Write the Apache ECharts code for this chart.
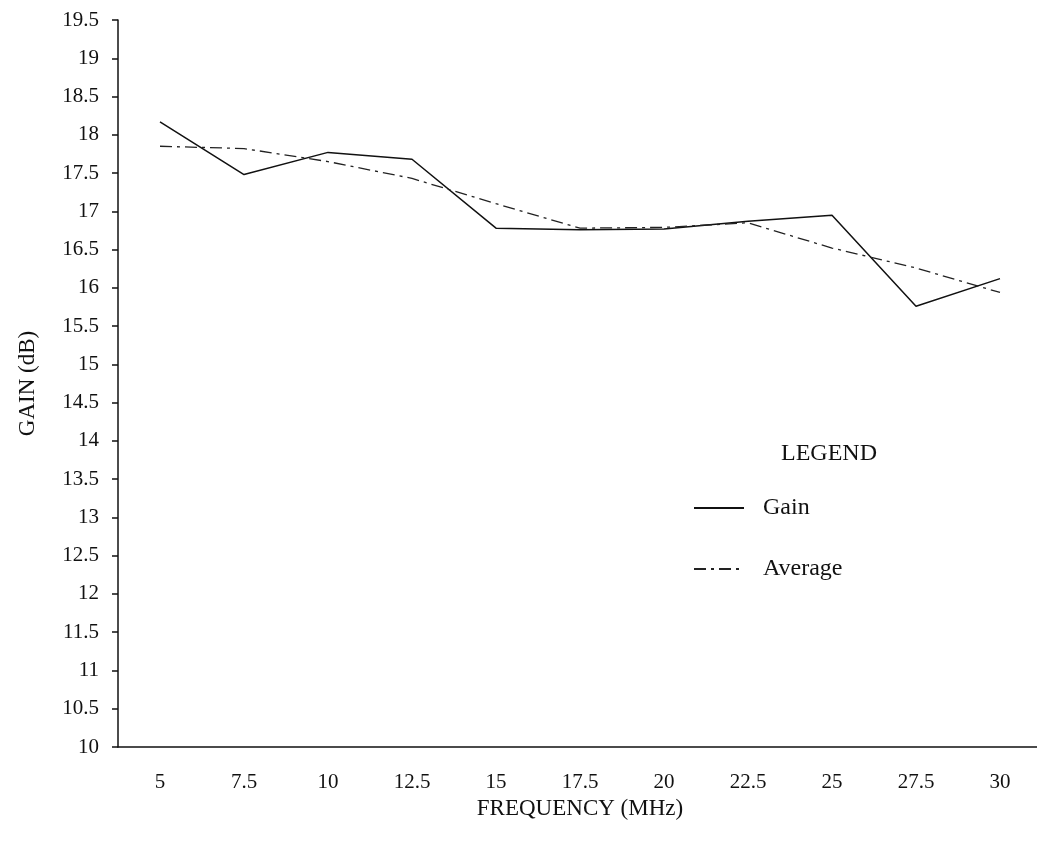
<!DOCTYPE html>
<html>
<head>
<meta charset="utf-8">
<script src="https://cdn.jsdelivr.net/npm/echarts@6/dist/echarts.min.js"></script>
<style>
  html, body { margin: 0; padding: 0; background: #fff; }
  #chart { width: 1037px; height: 844px; }
</style>
</head>
<body>
<div id="chart"></div>
<script>
// frequency categories (MHz)
const frequency = ['5', '7.5', '10', '12.5', '15', '17.5', '20', '22.5', '25', '27.5', '30'];
// measured gain (dB)
const gain = [18.17, 17.48, 17.77, 17.68, 16.78, 16.76, 16.77, 16.87, 16.95, 15.76, 16.12];
// running average (dB)
const average = [17.85, 17.82, 17.65, 17.43, 17.1, 16.78, 16.79, 16.85, 16.52, 16.26, 15.94];

const font = 'Liberation Serif';
const chart = echarts.init(document.getElementById('chart'));

chart.setOption({
    backgroundColor: '#fff',
    animation: false,
    textStyle: {
        fontFamily: font,
        color: '#111'
    },
    title: {
        text: 'LEGEND',
        left: 776,
        top: 437,
        textStyle: {
            fontFamily: font,
            fontWeight: 'normal',
            fontSize: 24,
            color: '#111'
        }
    },
    legend: {
        orient: 'vertical',
        left: 688,
        top: 491,
        itemWidth: 50,
        itemHeight: 22,
        itemGap: 37,
        itemStyle: { opacity: 0 },
        textStyle: {
            fontFamily: font,
            fontSize: 24,
            color: '#111',
            padding: [0, 0, 0, 14]
        },
        data: ['Gain', 'Average']
    },
    grid: {
        left: 118,
        top: 20,
        width: 924,
        bottom: 97,
        outerBoundsMode: 'none'
    },
    xAxis: {
        type: 'category',
        data: frequency,
        boundaryGap: true,
        name: 'FREQUENCY (MHz)',
        nameLocation: 'middle',
        nameGap: 44,
        nameTextStyle: {
            fontFamily: font,
            fontSize: 23,
            color: '#111'
        },
        axisLine: {
            lineStyle: { color: '#111', width: 1.5 }
        },
        axisTick: {
            alignWithLabel: true,
            length: 6,
            lineStyle: { color: '#333' }
        },
        axisLabel: {
            margin: 25,
            fontSize: 21,
            color: '#111'
        },
        splitLine: { show: false }
    },
    yAxis: {
        type: 'value',
        min: 10,
        max: 19.5,
        interval: 0.5,
        name: 'GAIN (dB)',
        nameLocation: 'middle',
        nameGap: 79,
        nameTextStyle: {
            fontFamily: font,
            fontSize: 23,
            color: '#111'
        },
        axisLine: {
            show: true,
            lineStyle: { color: '#111', width: 1.5 }
        },
        axisTick: {
            show: true,
            length: 6,
            lineStyle: { color: '#111', width: 1.5 }
        },
        axisLabel: {
            margin: 19,
            fontSize: 21,
            color: '#111'
        },
        splitLine: { show: false }
    },
    series: [
        {
            name: 'Gain',
            type: 'line',
            data: gain,
            symbol: 'none',
            lineStyle: { color: '#111', width: 1.5, type: 'solid' },
            itemStyle: { color: '#111' }
        },
        {
            name: 'Average',
            type: 'line',
            data: average,
            symbol: 'none',
            lineStyle: { color: '#222', width: 1.3, type: [12, 5, 3, 5] },
            itemStyle: { color: '#222' }
        }
    ]
});
</script>
</body>
</html>
